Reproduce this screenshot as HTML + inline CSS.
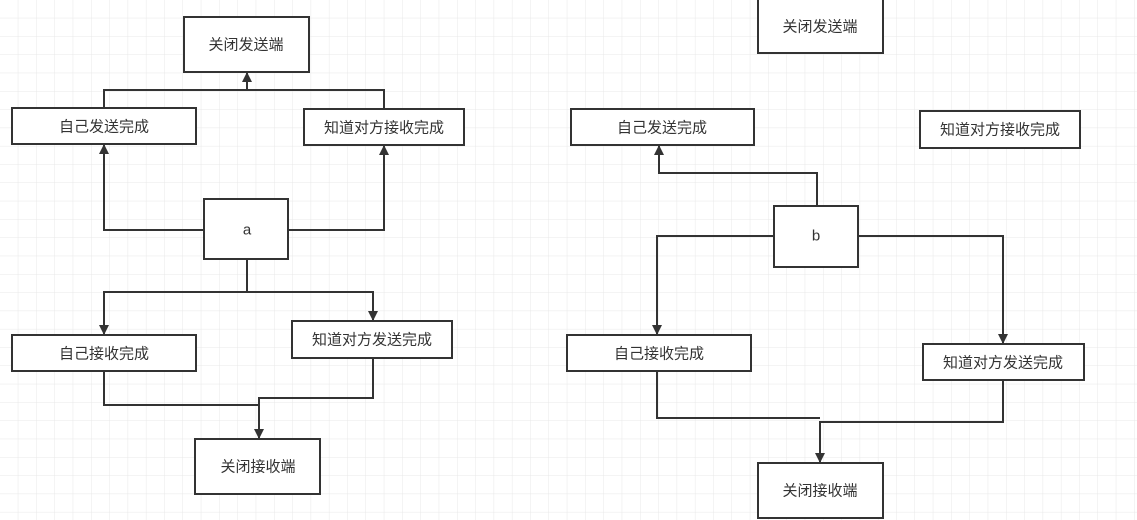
<!DOCTYPE html>
<html><head><meta charset="utf-8"><style>
html,body{margin:0;padding:0;background:#fff;}
svg{display:block;}
text{font-family:"Liberation Sans","Noto Sans CJK SC",sans-serif;font-size:15px;fill:#333;text-anchor:middle;dominant-baseline:central;}
</style></head><body>
<svg width="1137" height="520" viewBox="0 0 1137 520" xmlns="http://www.w3.org/2000/svg">
<defs>
<pattern id="g" width="18.3" height="18.3" patternUnits="userSpaceOnUse">
<path d="M18.3 0V18.3M0 18.3H18.3" stroke="#e8e8e8" stroke-width="1" fill="none"/>
</pattern>
<marker id="ar" viewBox="0 0 10 10" refX="9" refY="5" markerWidth="5" markerHeight="5" orient="auto-start-reverse" markerUnits="strokeWidth">
<path d="M0 0L10 5L0 10z" fill="#333"/>
</marker>
</defs>
<rect width="1137" height="520" fill="url(#g)"/>
<g stroke="#333" stroke-width="2" fill="none">
<!-- left -->
<path d="M104 108V90H384V109"/>
<path d="M247 90V73" marker-end="url(#ar)"/>
<path d="M204 230H104V145" marker-end="url(#ar)"/>
<path d="M288 230H384V146" marker-end="url(#ar)"/>
<path d="M247 259V292H104V334" marker-end="url(#ar)"/>
<path d="M247 292H373V320" marker-end="url(#ar)"/>
<path d="M104 371V405H259"/>
<path d="M373 358V398H259V438" marker-end="url(#ar)"/>
<!-- right -->
<path d="M817 206V173H659V146" marker-end="url(#ar)"/>
<path d="M774 236H657V334" marker-end="url(#ar)"/>
<path d="M858 236H1003V343" marker-end="url(#ar)"/>
<path d="M657 371V418H813"/>
<path d="M1003 380V422H820V462" marker-end="url(#ar)"/>
<path d="M813 418H820"/>
</g>
<g stroke="#333" stroke-width="2" fill="#fff">
<rect x="184" y="17" width="125" height="55"/>
<rect x="12" y="108" width="184" height="36"/>
<rect x="304" y="109" width="160" height="36"/>
<rect x="204" y="199" width="84" height="60"/>
<rect x="12" y="335" width="184" height="36"/>
<rect x="292" y="321" width="160" height="37"/>
<rect x="195" y="439" width="125" height="55"/>
<rect x="758" y="-2" width="125" height="55"/>
<rect x="571" y="109" width="183" height="36"/>
<rect x="920" y="111" width="160" height="37"/>
<rect x="774" y="206" width="84" height="61"/>
<rect x="567" y="335" width="184" height="36"/>
<rect x="923" y="344" width="161" height="36"/>
<rect x="758" y="463" width="125" height="55"/>
</g>
<text x="246" y="45">关闭发送端</text>
<text x="104" y="127">自己发送完成</text>
<text x="384" y="128">知道对方接收完成</text>
<text x="247" y="230">a</text>
<text x="104" y="354">自己接收完成</text>
<text x="372" y="340">知道对方发送完成</text>
<text x="258" y="467">关闭接收端</text>
<text x="820" y="27">关闭发送端</text>
<text x="662" y="128">自己发送完成</text>
<text x="1000" y="130">知道对方接收完成</text>
<text x="816" y="236">b</text>
<text x="659" y="354">自己接收完成</text>
<text x="1003" y="363">知道对方发送完成</text>
<text x="820" y="491">关闭接收端</text>
</svg>
</body></html>
